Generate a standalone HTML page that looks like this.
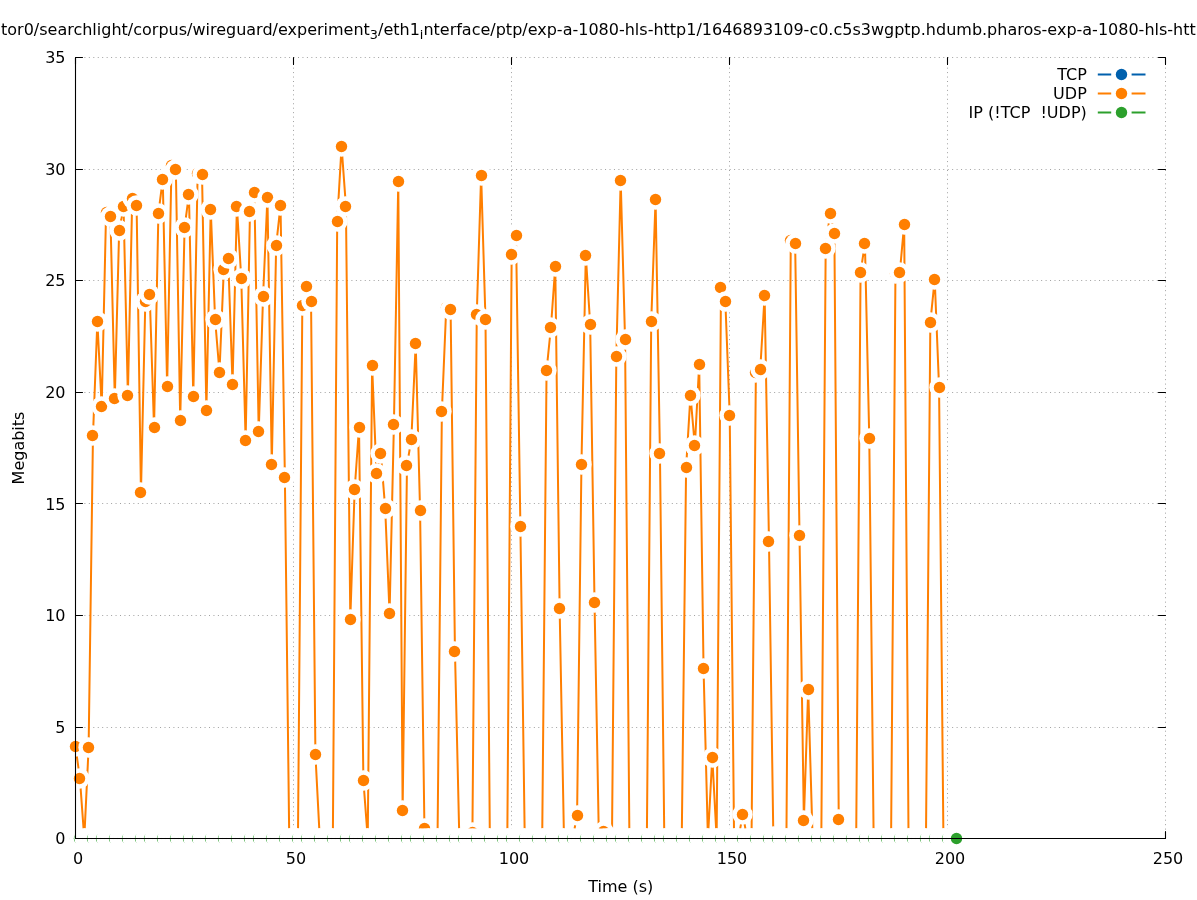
<!DOCTYPE html>
<html><head><meta charset="utf-8"><title>plot</title>
<style>html,body{margin:0;padding:0;background:#fff;overflow:hidden}svg{display:block}</style>
</head><body>
<svg width="1197" height="900" viewBox="0 0 1197 900">
<rect width="1197" height="900" fill="#fff"/>
<path d="M293.50 838.50V57.50M511.50 838.50V57.50M729.50 838.50V57.50M947.50 838.50V57.50M1165.50 838.50V57.50M75.50 727.50H1165.50M75.50 615.50H1165.50M75.50 503.50H1165.50M75.50 392.50H1165.50M75.50 280.50H1165.50M75.50 169.50H1165.50M75.50 57.50H1165.50" stroke="#a0a0a0" stroke-width="1" stroke-dasharray="1 3.45" fill="none"/>
<path d="M75.50 838.50v-7M75.50 57.50v7M293.50 838.50v-7M293.50 57.50v7M511.50 838.50v-7M511.50 57.50v7M729.50 838.50v-7M729.50 57.50v7M947.50 838.50v-7M947.50 57.50v7M1165.50 838.50v-7M1165.50 57.50v7M75.50 838.50h7M1165.50 838.50h-7M75.50 727.50h7M1165.50 727.50h-7M75.50 615.50h7M1165.50 615.50h-7M75.50 503.50h7M1165.50 503.50h-7M75.50 392.50h7M1165.50 392.50h-7M75.50 280.50h7M1165.50 280.50h-7M75.50 169.50h7M1165.50 169.50h-7M75.50 57.50h7M1165.50 57.50h-7" stroke="#000" stroke-width="1.1" stroke-linecap="round" fill="none"/>
<path d="M75.54 746.93L79.90 778.39L84.26 838.40L88.62 747.60L92.98 435.48L97.35 321.48L101.71 406.70L106.07 212.60L110.43 216.40L114.79 398.45L119.15 230.45L123.51 206.49L127.87 395.32L132.24 198.55L136.60 205.47L140.96 492.37L145.32 301.84L149.68 294.26L154.04 427.67L158.40 213.27L162.76 179.36L167.13 386.18L171.49 165.53L175.85 169.55L180.21 420.31L184.57 227.55L188.93 194.31L193.29 396.44L197.65 173.56L202.01 174.23L206.38 410.05L210.74 209.26L215.10 319.25L219.46 372.12L223.82 269.50L228.18 258.34L232.54 384.17L236.90 206.36L241.27 278.42L245.63 440.39L249.99 211.49L254.35 192.08L258.71 431.47L263.07 296.27L267.43 197.21L271.79 464.26L276.16 245.40L280.52 205.47L284.88 477.20L289.24 838.40L293.60 838.40L297.96 838.40L302.32 305.19L306.68 286.23L311.04 301.40L315.41 754.51L319.77 838.40L324.13 838.40L328.49 838.40L332.85 838.40L337.21 221.31L341.57 146.34L345.93 206.36L350.30 619.32L354.66 489.47L359.02 427.23L363.38 780.39L367.74 838.40L372.10 365.20L376.46 473.41L380.82 453.33L385.19 508.21L389.55 613.52L393.91 424.55L398.27 181.15L402.63 810.51L406.99 465.15L411.35 439.50L415.71 343.34L420.07 510.44L424.44 828.81L428.80 838.40L433.16 838.40L437.52 838.40L441.88 411.16L446.24 307.42L450.60 309.43L454.96 651.22L459.33 838.40L463.69 838.40L468.05 838.40L472.41 832.38L476.77 314.12L481.13 175.12L485.49 319.47L489.85 838.40L494.22 838.40L498.58 838.40L502.94 838.40L507.30 838.40L511.66 254.55L516.02 235.14L520.38 526.28L524.74 838.40L529.10 838.40L533.47 838.40L537.83 838.40L542.19 838.40L546.55 370.56L550.91 327.50L555.27 266.37L559.63 608.38L563.99 838.40L568.36 838.40L572.72 838.40L577.08 815.20L581.44 464.48L585.80 255.22L590.16 324.15L594.52 602.36L598.88 838.40L603.25 831.71L607.61 838.40L611.97 838.40L616.33 356.28L620.69 180.03L625.05 339.33L629.41 838.40L633.77 838.40L638.13 838.40L642.50 838.40L646.86 838.40L651.22 321.25L655.58 199.44L659.94 453.33L664.30 838.40L668.66 838.40L673.02 838.40L677.39 838.40L681.75 838.40L686.11 467.38L690.47 395.10L694.83 445.97L699.19 364.54L703.55 668.40L707.91 838.40L712.28 757.19L716.64 838.40L721.00 287.12L725.36 301.62L729.72 415.18L734.08 838.40L738.44 838.40L742.80 814.08L747.16 838.40L751.53 838.40L755.89 372.12L760.25 369.44L764.61 295.60L768.97 541.23L773.33 836.17L777.69 838.40L782.05 838.40L786.42 838.40L790.78 240.49L795.14 243.39L799.50 535.21L803.86 820.11L808.22 689.37L812.58 838.40L816.94 838.40L821.31 838.40L825.67 248.52L830.03 213.05L834.39 233.35L838.75 819.44L843.11 838.40L847.47 838.40L851.83 838.40L856.19 838.40L860.56 272.40L864.92 243.39L869.28 438.38L873.64 838.40L878.00 838.40L882.36 838.40L886.72 838.40L891.08 838.40L895.45 273.96L899.81 272.40L904.17 224.43L908.53 838.40L912.89 838.40L917.25 838.40L921.61 838.40L925.97 838.40L930.34 322.37L934.70 279.31L939.06 387.29L943.42 838.40" stroke="#ff7f00" stroke-width="2.0" fill="none" stroke-linejoin="miter"/>
<circle cx="75.5" cy="746.5" r="10.15" fill="#fff"/><circle cx="75.5" cy="746.5" r="5.7" fill="#ff7f00"/><circle cx="79.5" cy="778.5" r="10.15" fill="#fff"/><circle cx="79.5" cy="778.5" r="5.7" fill="#ff7f00"/><circle cx="84.5" cy="838.5" r="10.15" fill="#fff"/><circle cx="84.5" cy="838.5" r="5.7" fill="#ff7f00"/><circle cx="88.5" cy="747.5" r="10.15" fill="#fff"/><circle cx="88.5" cy="747.5" r="5.7" fill="#ff7f00"/><circle cx="92.5" cy="435.5" r="10.15" fill="#fff"/><circle cx="92.5" cy="435.5" r="5.7" fill="#ff7f00"/><circle cx="97.5" cy="321.5" r="10.15" fill="#fff"/><circle cx="97.5" cy="321.5" r="5.7" fill="#ff7f00"/><circle cx="101.5" cy="406.5" r="10.15" fill="#fff"/><circle cx="101.5" cy="406.5" r="5.7" fill="#ff7f00"/><circle cx="106.5" cy="212.5" r="10.15" fill="#fff"/><circle cx="106.5" cy="212.5" r="5.7" fill="#ff7f00"/><circle cx="110.5" cy="216.5" r="10.15" fill="#fff"/><circle cx="110.5" cy="216.5" r="5.7" fill="#ff7f00"/><circle cx="114.5" cy="398.5" r="10.15" fill="#fff"/><circle cx="114.5" cy="398.5" r="5.7" fill="#ff7f00"/><circle cx="119.5" cy="230.5" r="10.15" fill="#fff"/><circle cx="119.5" cy="230.5" r="5.7" fill="#ff7f00"/><circle cx="123.5" cy="206.5" r="10.15" fill="#fff"/><circle cx="123.5" cy="206.5" r="5.7" fill="#ff7f00"/><circle cx="127.5" cy="395.5" r="10.15" fill="#fff"/><circle cx="127.5" cy="395.5" r="5.7" fill="#ff7f00"/><circle cx="132.5" cy="198.5" r="10.15" fill="#fff"/><circle cx="132.5" cy="198.5" r="5.7" fill="#ff7f00"/><circle cx="136.5" cy="205.5" r="10.15" fill="#fff"/><circle cx="136.5" cy="205.5" r="5.7" fill="#ff7f00"/><circle cx="140.5" cy="492.5" r="10.15" fill="#fff"/><circle cx="140.5" cy="492.5" r="5.7" fill="#ff7f00"/><circle cx="145.5" cy="301.5" r="10.15" fill="#fff"/><circle cx="145.5" cy="301.5" r="5.7" fill="#ff7f00"/><circle cx="149.5" cy="294.5" r="10.15" fill="#fff"/><circle cx="149.5" cy="294.5" r="5.7" fill="#ff7f00"/><circle cx="154.5" cy="427.5" r="10.15" fill="#fff"/><circle cx="154.5" cy="427.5" r="5.7" fill="#ff7f00"/><circle cx="158.5" cy="213.5" r="10.15" fill="#fff"/><circle cx="158.5" cy="213.5" r="5.7" fill="#ff7f00"/><circle cx="162.5" cy="179.5" r="10.15" fill="#fff"/><circle cx="162.5" cy="179.5" r="5.7" fill="#ff7f00"/><circle cx="167.5" cy="386.5" r="10.15" fill="#fff"/><circle cx="167.5" cy="386.5" r="5.7" fill="#ff7f00"/><circle cx="171.5" cy="165.5" r="10.15" fill="#fff"/><circle cx="171.5" cy="165.5" r="5.7" fill="#ff7f00"/><circle cx="175.5" cy="169.5" r="10.15" fill="#fff"/><circle cx="175.5" cy="169.5" r="5.7" fill="#ff7f00"/><circle cx="180.5" cy="420.5" r="10.15" fill="#fff"/><circle cx="180.5" cy="420.5" r="5.7" fill="#ff7f00"/><circle cx="184.5" cy="227.5" r="10.15" fill="#fff"/><circle cx="184.5" cy="227.5" r="5.7" fill="#ff7f00"/><circle cx="188.5" cy="194.5" r="10.15" fill="#fff"/><circle cx="188.5" cy="194.5" r="5.7" fill="#ff7f00"/><circle cx="193.5" cy="396.5" r="10.15" fill="#fff"/><circle cx="193.5" cy="396.5" r="5.7" fill="#ff7f00"/><circle cx="197.5" cy="173.5" r="10.15" fill="#fff"/><circle cx="197.5" cy="173.5" r="5.7" fill="#ff7f00"/><circle cx="202.5" cy="174.5" r="10.15" fill="#fff"/><circle cx="202.5" cy="174.5" r="5.7" fill="#ff7f00"/><circle cx="206.5" cy="410.5" r="10.15" fill="#fff"/><circle cx="206.5" cy="410.5" r="5.7" fill="#ff7f00"/><circle cx="210.5" cy="209.5" r="10.15" fill="#fff"/><circle cx="210.5" cy="209.5" r="5.7" fill="#ff7f00"/><circle cx="215.5" cy="319.5" r="10.15" fill="#fff"/><circle cx="215.5" cy="319.5" r="5.7" fill="#ff7f00"/><circle cx="219.5" cy="372.5" r="10.15" fill="#fff"/><circle cx="219.5" cy="372.5" r="5.7" fill="#ff7f00"/><circle cx="223.5" cy="269.5" r="10.15" fill="#fff"/><circle cx="223.5" cy="269.5" r="5.7" fill="#ff7f00"/><circle cx="228.5" cy="258.5" r="10.15" fill="#fff"/><circle cx="228.5" cy="258.5" r="5.7" fill="#ff7f00"/><circle cx="232.5" cy="384.5" r="10.15" fill="#fff"/><circle cx="232.5" cy="384.5" r="5.7" fill="#ff7f00"/><circle cx="236.5" cy="206.5" r="10.15" fill="#fff"/><circle cx="236.5" cy="206.5" r="5.7" fill="#ff7f00"/><circle cx="241.5" cy="278.5" r="10.15" fill="#fff"/><circle cx="241.5" cy="278.5" r="5.7" fill="#ff7f00"/><circle cx="245.5" cy="440.5" r="10.15" fill="#fff"/><circle cx="245.5" cy="440.5" r="5.7" fill="#ff7f00"/><circle cx="249.5" cy="211.5" r="10.15" fill="#fff"/><circle cx="249.5" cy="211.5" r="5.7" fill="#ff7f00"/><circle cx="254.5" cy="192.5" r="10.15" fill="#fff"/><circle cx="254.5" cy="192.5" r="5.7" fill="#ff7f00"/><circle cx="258.5" cy="431.5" r="10.15" fill="#fff"/><circle cx="258.5" cy="431.5" r="5.7" fill="#ff7f00"/><circle cx="263.5" cy="296.5" r="10.15" fill="#fff"/><circle cx="263.5" cy="296.5" r="5.7" fill="#ff7f00"/><circle cx="267.5" cy="197.5" r="10.15" fill="#fff"/><circle cx="267.5" cy="197.5" r="5.7" fill="#ff7f00"/><circle cx="271.5" cy="464.5" r="10.15" fill="#fff"/><circle cx="271.5" cy="464.5" r="5.7" fill="#ff7f00"/><circle cx="276.5" cy="245.5" r="10.15" fill="#fff"/><circle cx="276.5" cy="245.5" r="5.7" fill="#ff7f00"/><circle cx="280.5" cy="205.5" r="10.15" fill="#fff"/><circle cx="280.5" cy="205.5" r="5.7" fill="#ff7f00"/><circle cx="284.5" cy="477.5" r="10.15" fill="#fff"/><circle cx="284.5" cy="477.5" r="5.7" fill="#ff7f00"/><circle cx="289.5" cy="838.5" r="10.15" fill="#fff"/><circle cx="289.5" cy="838.5" r="5.7" fill="#ff7f00"/><circle cx="293.5" cy="838.5" r="10.15" fill="#fff"/><circle cx="293.5" cy="838.5" r="5.7" fill="#ff7f00"/><circle cx="297.5" cy="838.5" r="10.15" fill="#fff"/><circle cx="297.5" cy="838.5" r="5.7" fill="#ff7f00"/><circle cx="302.5" cy="305.5" r="10.15" fill="#fff"/><circle cx="302.5" cy="305.5" r="5.7" fill="#ff7f00"/><circle cx="306.5" cy="286.5" r="10.15" fill="#fff"/><circle cx="306.5" cy="286.5" r="5.7" fill="#ff7f00"/><circle cx="311.5" cy="301.5" r="10.15" fill="#fff"/><circle cx="311.5" cy="301.5" r="5.7" fill="#ff7f00"/><circle cx="315.5" cy="754.5" r="10.15" fill="#fff"/><circle cx="315.5" cy="754.5" r="5.7" fill="#ff7f00"/><circle cx="319.5" cy="838.5" r="10.15" fill="#fff"/><circle cx="319.5" cy="838.5" r="5.7" fill="#ff7f00"/><circle cx="324.5" cy="838.5" r="10.15" fill="#fff"/><circle cx="324.5" cy="838.5" r="5.7" fill="#ff7f00"/><circle cx="328.5" cy="838.5" r="10.15" fill="#fff"/><circle cx="328.5" cy="838.5" r="5.7" fill="#ff7f00"/><circle cx="332.5" cy="838.5" r="10.15" fill="#fff"/><circle cx="332.5" cy="838.5" r="5.7" fill="#ff7f00"/><circle cx="337.5" cy="221.5" r="10.15" fill="#fff"/><circle cx="337.5" cy="221.5" r="5.7" fill="#ff7f00"/><circle cx="341.5" cy="146.5" r="10.15" fill="#fff"/><circle cx="341.5" cy="146.5" r="5.7" fill="#ff7f00"/><circle cx="345.5" cy="206.5" r="10.15" fill="#fff"/><circle cx="345.5" cy="206.5" r="5.7" fill="#ff7f00"/><circle cx="350.5" cy="619.5" r="10.15" fill="#fff"/><circle cx="350.5" cy="619.5" r="5.7" fill="#ff7f00"/><circle cx="354.5" cy="489.5" r="10.15" fill="#fff"/><circle cx="354.5" cy="489.5" r="5.7" fill="#ff7f00"/><circle cx="359.5" cy="427.5" r="10.15" fill="#fff"/><circle cx="359.5" cy="427.5" r="5.7" fill="#ff7f00"/><circle cx="363.5" cy="780.5" r="10.15" fill="#fff"/><circle cx="363.5" cy="780.5" r="5.7" fill="#ff7f00"/><circle cx="367.5" cy="838.5" r="10.15" fill="#fff"/><circle cx="367.5" cy="838.5" r="5.7" fill="#ff7f00"/><circle cx="372.5" cy="365.5" r="10.15" fill="#fff"/><circle cx="372.5" cy="365.5" r="5.7" fill="#ff7f00"/><circle cx="376.5" cy="473.5" r="10.15" fill="#fff"/><circle cx="376.5" cy="473.5" r="5.7" fill="#ff7f00"/><circle cx="380.5" cy="453.5" r="10.15" fill="#fff"/><circle cx="380.5" cy="453.5" r="5.7" fill="#ff7f00"/><circle cx="385.5" cy="508.5" r="10.15" fill="#fff"/><circle cx="385.5" cy="508.5" r="5.7" fill="#ff7f00"/><circle cx="389.5" cy="613.5" r="10.15" fill="#fff"/><circle cx="389.5" cy="613.5" r="5.7" fill="#ff7f00"/><circle cx="393.5" cy="424.5" r="10.15" fill="#fff"/><circle cx="393.5" cy="424.5" r="5.7" fill="#ff7f00"/><circle cx="398.5" cy="181.5" r="10.15" fill="#fff"/><circle cx="398.5" cy="181.5" r="5.7" fill="#ff7f00"/><circle cx="402.5" cy="810.5" r="10.15" fill="#fff"/><circle cx="402.5" cy="810.5" r="5.7" fill="#ff7f00"/><circle cx="406.5" cy="465.5" r="10.15" fill="#fff"/><circle cx="406.5" cy="465.5" r="5.7" fill="#ff7f00"/><circle cx="411.5" cy="439.5" r="10.15" fill="#fff"/><circle cx="411.5" cy="439.5" r="5.7" fill="#ff7f00"/><circle cx="415.5" cy="343.5" r="10.15" fill="#fff"/><circle cx="415.5" cy="343.5" r="5.7" fill="#ff7f00"/><circle cx="420.5" cy="510.5" r="10.15" fill="#fff"/><circle cx="420.5" cy="510.5" r="5.7" fill="#ff7f00"/><circle cx="424.5" cy="828.5" r="10.15" fill="#fff"/><circle cx="424.5" cy="828.5" r="5.7" fill="#ff7f00"/><circle cx="428.5" cy="838.5" r="10.15" fill="#fff"/><circle cx="428.5" cy="838.5" r="5.7" fill="#ff7f00"/><circle cx="433.5" cy="838.5" r="10.15" fill="#fff"/><circle cx="433.5" cy="838.5" r="5.7" fill="#ff7f00"/><circle cx="437.5" cy="838.5" r="10.15" fill="#fff"/><circle cx="437.5" cy="838.5" r="5.7" fill="#ff7f00"/><circle cx="441.5" cy="411.5" r="10.15" fill="#fff"/><circle cx="441.5" cy="411.5" r="5.7" fill="#ff7f00"/><circle cx="446.5" cy="307.5" r="10.15" fill="#fff"/><circle cx="446.5" cy="307.5" r="5.7" fill="#ff7f00"/><circle cx="450.5" cy="309.5" r="10.15" fill="#fff"/><circle cx="450.5" cy="309.5" r="5.7" fill="#ff7f00"/><circle cx="454.5" cy="651.5" r="10.15" fill="#fff"/><circle cx="454.5" cy="651.5" r="5.7" fill="#ff7f00"/><circle cx="459.5" cy="838.5" r="10.15" fill="#fff"/><circle cx="459.5" cy="838.5" r="5.7" fill="#ff7f00"/><circle cx="463.5" cy="838.5" r="10.15" fill="#fff"/><circle cx="463.5" cy="838.5" r="5.7" fill="#ff7f00"/><circle cx="468.5" cy="838.5" r="10.15" fill="#fff"/><circle cx="468.5" cy="838.5" r="5.7" fill="#ff7f00"/><circle cx="472.5" cy="832.5" r="10.15" fill="#fff"/><circle cx="472.5" cy="832.5" r="5.7" fill="#ff7f00"/><circle cx="476.5" cy="314.5" r="10.15" fill="#fff"/><circle cx="476.5" cy="314.5" r="5.7" fill="#ff7f00"/><circle cx="481.5" cy="175.5" r="10.15" fill="#fff"/><circle cx="481.5" cy="175.5" r="5.7" fill="#ff7f00"/><circle cx="485.5" cy="319.5" r="10.15" fill="#fff"/><circle cx="485.5" cy="319.5" r="5.7" fill="#ff7f00"/><circle cx="489.5" cy="838.5" r="10.15" fill="#fff"/><circle cx="489.5" cy="838.5" r="5.7" fill="#ff7f00"/><circle cx="494.5" cy="838.5" r="10.15" fill="#fff"/><circle cx="494.5" cy="838.5" r="5.7" fill="#ff7f00"/><circle cx="498.5" cy="838.5" r="10.15" fill="#fff"/><circle cx="498.5" cy="838.5" r="5.7" fill="#ff7f00"/><circle cx="502.5" cy="838.5" r="10.15" fill="#fff"/><circle cx="502.5" cy="838.5" r="5.7" fill="#ff7f00"/><circle cx="507.5" cy="838.5" r="10.15" fill="#fff"/><circle cx="507.5" cy="838.5" r="5.7" fill="#ff7f00"/><circle cx="511.5" cy="254.5" r="10.15" fill="#fff"/><circle cx="511.5" cy="254.5" r="5.7" fill="#ff7f00"/><circle cx="516.5" cy="235.5" r="10.15" fill="#fff"/><circle cx="516.5" cy="235.5" r="5.7" fill="#ff7f00"/><circle cx="520.5" cy="526.5" r="10.15" fill="#fff"/><circle cx="520.5" cy="526.5" r="5.7" fill="#ff7f00"/><circle cx="524.5" cy="838.5" r="10.15" fill="#fff"/><circle cx="524.5" cy="838.5" r="5.7" fill="#ff7f00"/><circle cx="529.5" cy="838.5" r="10.15" fill="#fff"/><circle cx="529.5" cy="838.5" r="5.7" fill="#ff7f00"/><circle cx="533.5" cy="838.5" r="10.15" fill="#fff"/><circle cx="533.5" cy="838.5" r="5.7" fill="#ff7f00"/><circle cx="537.5" cy="838.5" r="10.15" fill="#fff"/><circle cx="537.5" cy="838.5" r="5.7" fill="#ff7f00"/><circle cx="542.5" cy="838.5" r="10.15" fill="#fff"/><circle cx="542.5" cy="838.5" r="5.7" fill="#ff7f00"/><circle cx="546.5" cy="370.5" r="10.15" fill="#fff"/><circle cx="546.5" cy="370.5" r="5.7" fill="#ff7f00"/><circle cx="550.5" cy="327.5" r="10.15" fill="#fff"/><circle cx="550.5" cy="327.5" r="5.7" fill="#ff7f00"/><circle cx="555.5" cy="266.5" r="10.15" fill="#fff"/><circle cx="555.5" cy="266.5" r="5.7" fill="#ff7f00"/><circle cx="559.5" cy="608.5" r="10.15" fill="#fff"/><circle cx="559.5" cy="608.5" r="5.7" fill="#ff7f00"/><circle cx="563.5" cy="838.5" r="10.15" fill="#fff"/><circle cx="563.5" cy="838.5" r="5.7" fill="#ff7f00"/><circle cx="568.5" cy="838.5" r="10.15" fill="#fff"/><circle cx="568.5" cy="838.5" r="5.7" fill="#ff7f00"/><circle cx="572.5" cy="838.5" r="10.15" fill="#fff"/><circle cx="572.5" cy="838.5" r="5.7" fill="#ff7f00"/><circle cx="577.5" cy="815.5" r="10.15" fill="#fff"/><circle cx="577.5" cy="815.5" r="5.7" fill="#ff7f00"/><circle cx="581.5" cy="464.5" r="10.15" fill="#fff"/><circle cx="581.5" cy="464.5" r="5.7" fill="#ff7f00"/><circle cx="585.5" cy="255.5" r="10.15" fill="#fff"/><circle cx="585.5" cy="255.5" r="5.7" fill="#ff7f00"/><circle cx="590.5" cy="324.5" r="10.15" fill="#fff"/><circle cx="590.5" cy="324.5" r="5.7" fill="#ff7f00"/><circle cx="594.5" cy="602.5" r="10.15" fill="#fff"/><circle cx="594.5" cy="602.5" r="5.7" fill="#ff7f00"/><circle cx="598.5" cy="838.5" r="10.15" fill="#fff"/><circle cx="598.5" cy="838.5" r="5.7" fill="#ff7f00"/><circle cx="603.5" cy="831.5" r="10.15" fill="#fff"/><circle cx="603.5" cy="831.5" r="5.7" fill="#ff7f00"/><circle cx="607.5" cy="838.5" r="10.15" fill="#fff"/><circle cx="607.5" cy="838.5" r="5.7" fill="#ff7f00"/><circle cx="611.5" cy="838.5" r="10.15" fill="#fff"/><circle cx="611.5" cy="838.5" r="5.7" fill="#ff7f00"/><circle cx="616.5" cy="356.5" r="10.15" fill="#fff"/><circle cx="616.5" cy="356.5" r="5.7" fill="#ff7f00"/><circle cx="620.5" cy="180.5" r="10.15" fill="#fff"/><circle cx="620.5" cy="180.5" r="5.7" fill="#ff7f00"/><circle cx="625.5" cy="339.5" r="10.15" fill="#fff"/><circle cx="625.5" cy="339.5" r="5.7" fill="#ff7f00"/><circle cx="629.5" cy="838.5" r="10.15" fill="#fff"/><circle cx="629.5" cy="838.5" r="5.7" fill="#ff7f00"/><circle cx="633.5" cy="838.5" r="10.15" fill="#fff"/><circle cx="633.5" cy="838.5" r="5.7" fill="#ff7f00"/><circle cx="638.5" cy="838.5" r="10.15" fill="#fff"/><circle cx="638.5" cy="838.5" r="5.7" fill="#ff7f00"/><circle cx="642.5" cy="838.5" r="10.15" fill="#fff"/><circle cx="642.5" cy="838.5" r="5.7" fill="#ff7f00"/><circle cx="646.5" cy="838.5" r="10.15" fill="#fff"/><circle cx="646.5" cy="838.5" r="5.7" fill="#ff7f00"/><circle cx="651.5" cy="321.5" r="10.15" fill="#fff"/><circle cx="651.5" cy="321.5" r="5.7" fill="#ff7f00"/><circle cx="655.5" cy="199.5" r="10.15" fill="#fff"/><circle cx="655.5" cy="199.5" r="5.7" fill="#ff7f00"/><circle cx="659.5" cy="453.5" r="10.15" fill="#fff"/><circle cx="659.5" cy="453.5" r="5.7" fill="#ff7f00"/><circle cx="664.5" cy="838.5" r="10.15" fill="#fff"/><circle cx="664.5" cy="838.5" r="5.7" fill="#ff7f00"/><circle cx="668.5" cy="838.5" r="10.15" fill="#fff"/><circle cx="668.5" cy="838.5" r="5.7" fill="#ff7f00"/><circle cx="673.5" cy="838.5" r="10.15" fill="#fff"/><circle cx="673.5" cy="838.5" r="5.7" fill="#ff7f00"/><circle cx="677.5" cy="838.5" r="10.15" fill="#fff"/><circle cx="677.5" cy="838.5" r="5.7" fill="#ff7f00"/><circle cx="681.5" cy="838.5" r="10.15" fill="#fff"/><circle cx="681.5" cy="838.5" r="5.7" fill="#ff7f00"/><circle cx="686.5" cy="467.5" r="10.15" fill="#fff"/><circle cx="686.5" cy="467.5" r="5.7" fill="#ff7f00"/><circle cx="690.5" cy="395.5" r="10.15" fill="#fff"/><circle cx="690.5" cy="395.5" r="5.7" fill="#ff7f00"/><circle cx="694.5" cy="445.5" r="10.15" fill="#fff"/><circle cx="694.5" cy="445.5" r="5.7" fill="#ff7f00"/><circle cx="699.5" cy="364.5" r="10.15" fill="#fff"/><circle cx="699.5" cy="364.5" r="5.7" fill="#ff7f00"/><circle cx="703.5" cy="668.5" r="10.15" fill="#fff"/><circle cx="703.5" cy="668.5" r="5.7" fill="#ff7f00"/><circle cx="707.5" cy="838.5" r="10.15" fill="#fff"/><circle cx="707.5" cy="838.5" r="5.7" fill="#ff7f00"/><circle cx="712.5" cy="757.5" r="10.15" fill="#fff"/><circle cx="712.5" cy="757.5" r="5.7" fill="#ff7f00"/><circle cx="716.5" cy="838.5" r="10.15" fill="#fff"/><circle cx="716.5" cy="838.5" r="5.7" fill="#ff7f00"/><circle cx="720.5" cy="287.5" r="10.15" fill="#fff"/><circle cx="720.5" cy="287.5" r="5.7" fill="#ff7f00"/><circle cx="725.5" cy="301.5" r="10.15" fill="#fff"/><circle cx="725.5" cy="301.5" r="5.7" fill="#ff7f00"/><circle cx="729.5" cy="415.5" r="10.15" fill="#fff"/><circle cx="729.5" cy="415.5" r="5.7" fill="#ff7f00"/><circle cx="734.5" cy="838.5" r="10.15" fill="#fff"/><circle cx="734.5" cy="838.5" r="5.7" fill="#ff7f00"/><circle cx="738.5" cy="838.5" r="10.15" fill="#fff"/><circle cx="738.5" cy="838.5" r="5.7" fill="#ff7f00"/><circle cx="742.5" cy="814.5" r="10.15" fill="#fff"/><circle cx="742.5" cy="814.5" r="5.7" fill="#ff7f00"/><circle cx="747.5" cy="838.5" r="10.15" fill="#fff"/><circle cx="747.5" cy="838.5" r="5.7" fill="#ff7f00"/><circle cx="751.5" cy="838.5" r="10.15" fill="#fff"/><circle cx="751.5" cy="838.5" r="5.7" fill="#ff7f00"/><circle cx="755.5" cy="372.5" r="10.15" fill="#fff"/><circle cx="755.5" cy="372.5" r="5.7" fill="#ff7f00"/><circle cx="760.5" cy="369.5" r="10.15" fill="#fff"/><circle cx="760.5" cy="369.5" r="5.7" fill="#ff7f00"/><circle cx="764.5" cy="295.5" r="10.15" fill="#fff"/><circle cx="764.5" cy="295.5" r="5.7" fill="#ff7f00"/><circle cx="768.5" cy="541.5" r="10.15" fill="#fff"/><circle cx="768.5" cy="541.5" r="5.7" fill="#ff7f00"/><circle cx="773.5" cy="836.5" r="10.15" fill="#fff"/><circle cx="773.5" cy="836.5" r="5.7" fill="#ff7f00"/><circle cx="777.5" cy="838.5" r="10.15" fill="#fff"/><circle cx="777.5" cy="838.5" r="5.7" fill="#ff7f00"/><circle cx="782.5" cy="838.5" r="10.15" fill="#fff"/><circle cx="782.5" cy="838.5" r="5.7" fill="#ff7f00"/><circle cx="786.5" cy="838.5" r="10.15" fill="#fff"/><circle cx="786.5" cy="838.5" r="5.7" fill="#ff7f00"/><circle cx="790.5" cy="240.5" r="10.15" fill="#fff"/><circle cx="790.5" cy="240.5" r="5.7" fill="#ff7f00"/><circle cx="795.5" cy="243.5" r="10.15" fill="#fff"/><circle cx="795.5" cy="243.5" r="5.7" fill="#ff7f00"/><circle cx="799.5" cy="535.5" r="10.15" fill="#fff"/><circle cx="799.5" cy="535.5" r="5.7" fill="#ff7f00"/><circle cx="803.5" cy="820.5" r="10.15" fill="#fff"/><circle cx="803.5" cy="820.5" r="5.7" fill="#ff7f00"/><circle cx="808.5" cy="689.5" r="10.15" fill="#fff"/><circle cx="808.5" cy="689.5" r="5.7" fill="#ff7f00"/><circle cx="812.5" cy="838.5" r="10.15" fill="#fff"/><circle cx="812.5" cy="838.5" r="5.7" fill="#ff7f00"/><circle cx="816.5" cy="838.5" r="10.15" fill="#fff"/><circle cx="816.5" cy="838.5" r="5.7" fill="#ff7f00"/><circle cx="821.5" cy="838.5" r="10.15" fill="#fff"/><circle cx="821.5" cy="838.5" r="5.7" fill="#ff7f00"/><circle cx="825.5" cy="248.5" r="10.15" fill="#fff"/><circle cx="825.5" cy="248.5" r="5.7" fill="#ff7f00"/><circle cx="830.5" cy="213.5" r="10.15" fill="#fff"/><circle cx="830.5" cy="213.5" r="5.7" fill="#ff7f00"/><circle cx="834.5" cy="233.5" r="10.15" fill="#fff"/><circle cx="834.5" cy="233.5" r="5.7" fill="#ff7f00"/><circle cx="838.5" cy="819.5" r="10.15" fill="#fff"/><circle cx="838.5" cy="819.5" r="5.7" fill="#ff7f00"/><circle cx="843.5" cy="838.5" r="10.15" fill="#fff"/><circle cx="843.5" cy="838.5" r="5.7" fill="#ff7f00"/><circle cx="847.5" cy="838.5" r="10.15" fill="#fff"/><circle cx="847.5" cy="838.5" r="5.7" fill="#ff7f00"/><circle cx="851.5" cy="838.5" r="10.15" fill="#fff"/><circle cx="851.5" cy="838.5" r="5.7" fill="#ff7f00"/><circle cx="856.5" cy="838.5" r="10.15" fill="#fff"/><circle cx="856.5" cy="838.5" r="5.7" fill="#ff7f00"/><circle cx="860.5" cy="272.5" r="10.15" fill="#fff"/><circle cx="860.5" cy="272.5" r="5.7" fill="#ff7f00"/><circle cx="864.5" cy="243.5" r="10.15" fill="#fff"/><circle cx="864.5" cy="243.5" r="5.7" fill="#ff7f00"/><circle cx="869.5" cy="438.5" r="10.15" fill="#fff"/><circle cx="869.5" cy="438.5" r="5.7" fill="#ff7f00"/><circle cx="873.5" cy="838.5" r="10.15" fill="#fff"/><circle cx="873.5" cy="838.5" r="5.7" fill="#ff7f00"/><circle cx="878.5" cy="838.5" r="10.15" fill="#fff"/><circle cx="878.5" cy="838.5" r="5.7" fill="#ff7f00"/><circle cx="882.5" cy="838.5" r="10.15" fill="#fff"/><circle cx="882.5" cy="838.5" r="5.7" fill="#ff7f00"/><circle cx="886.5" cy="838.5" r="10.15" fill="#fff"/><circle cx="886.5" cy="838.5" r="5.7" fill="#ff7f00"/><circle cx="891.5" cy="838.5" r="10.15" fill="#fff"/><circle cx="891.5" cy="838.5" r="5.7" fill="#ff7f00"/><circle cx="895.5" cy="273.5" r="10.15" fill="#fff"/><circle cx="895.5" cy="273.5" r="5.7" fill="#ff7f00"/><circle cx="899.5" cy="272.5" r="10.15" fill="#fff"/><circle cx="899.5" cy="272.5" r="5.7" fill="#ff7f00"/><circle cx="904.5" cy="224.5" r="10.15" fill="#fff"/><circle cx="904.5" cy="224.5" r="5.7" fill="#ff7f00"/><circle cx="908.5" cy="838.5" r="10.15" fill="#fff"/><circle cx="908.5" cy="838.5" r="5.7" fill="#ff7f00"/><circle cx="912.5" cy="838.5" r="10.15" fill="#fff"/><circle cx="912.5" cy="838.5" r="5.7" fill="#ff7f00"/><circle cx="917.5" cy="838.5" r="10.15" fill="#fff"/><circle cx="917.5" cy="838.5" r="5.7" fill="#ff7f00"/><circle cx="921.5" cy="838.5" r="10.15" fill="#fff"/><circle cx="921.5" cy="838.5" r="5.7" fill="#ff7f00"/><circle cx="925.5" cy="838.5" r="10.15" fill="#fff"/><circle cx="925.5" cy="838.5" r="5.7" fill="#ff7f00"/><circle cx="930.5" cy="322.5" r="10.15" fill="#fff"/><circle cx="930.5" cy="322.5" r="5.7" fill="#ff7f00"/><circle cx="934.5" cy="279.5" r="10.15" fill="#fff"/><circle cx="934.5" cy="279.5" r="5.7" fill="#ff7f00"/><circle cx="939.5" cy="387.5" r="10.15" fill="#fff"/><circle cx="939.5" cy="387.5" r="5.7" fill="#ff7f00"/><circle cx="943.5" cy="838.5" r="10.15" fill="#fff"/><circle cx="943.5" cy="838.5" r="5.7" fill="#ff7f00"/>
<circle cx="75.5" cy="838.5" r="10.15" fill="#fff"/><circle cx="75.5" cy="838.5" r="5.7" fill="#2ca02c"/><circle cx="79.5" cy="838.5" r="10.15" fill="#fff"/><circle cx="79.5" cy="838.5" r="5.7" fill="#2ca02c"/><circle cx="84.5" cy="838.5" r="10.15" fill="#fff"/><circle cx="84.5" cy="838.5" r="5.7" fill="#2ca02c"/><circle cx="88.5" cy="838.5" r="10.15" fill="#fff"/><circle cx="88.5" cy="838.5" r="5.7" fill="#2ca02c"/><circle cx="92.5" cy="838.5" r="10.15" fill="#fff"/><circle cx="92.5" cy="838.5" r="5.7" fill="#2ca02c"/><circle cx="97.5" cy="838.5" r="10.15" fill="#fff"/><circle cx="97.5" cy="838.5" r="5.7" fill="#2ca02c"/><circle cx="101.5" cy="838.5" r="10.15" fill="#fff"/><circle cx="101.5" cy="838.5" r="5.7" fill="#2ca02c"/><circle cx="106.5" cy="838.5" r="10.15" fill="#fff"/><circle cx="106.5" cy="838.5" r="5.7" fill="#2ca02c"/><circle cx="110.5" cy="838.5" r="10.15" fill="#fff"/><circle cx="110.5" cy="838.5" r="5.7" fill="#2ca02c"/><circle cx="114.5" cy="838.5" r="10.15" fill="#fff"/><circle cx="114.5" cy="838.5" r="5.7" fill="#2ca02c"/><circle cx="119.5" cy="838.5" r="10.15" fill="#fff"/><circle cx="119.5" cy="838.5" r="5.7" fill="#2ca02c"/><circle cx="123.5" cy="838.5" r="10.15" fill="#fff"/><circle cx="123.5" cy="838.5" r="5.7" fill="#2ca02c"/><circle cx="127.5" cy="838.5" r="10.15" fill="#fff"/><circle cx="127.5" cy="838.5" r="5.7" fill="#2ca02c"/><circle cx="132.5" cy="838.5" r="10.15" fill="#fff"/><circle cx="132.5" cy="838.5" r="5.7" fill="#2ca02c"/><circle cx="136.5" cy="838.5" r="10.15" fill="#fff"/><circle cx="136.5" cy="838.5" r="5.7" fill="#2ca02c"/><circle cx="140.5" cy="838.5" r="10.15" fill="#fff"/><circle cx="140.5" cy="838.5" r="5.7" fill="#2ca02c"/><circle cx="145.5" cy="838.5" r="10.15" fill="#fff"/><circle cx="145.5" cy="838.5" r="5.7" fill="#2ca02c"/><circle cx="149.5" cy="838.5" r="10.15" fill="#fff"/><circle cx="149.5" cy="838.5" r="5.7" fill="#2ca02c"/><circle cx="154.5" cy="838.5" r="10.15" fill="#fff"/><circle cx="154.5" cy="838.5" r="5.7" fill="#2ca02c"/><circle cx="158.5" cy="838.5" r="10.15" fill="#fff"/><circle cx="158.5" cy="838.5" r="5.7" fill="#2ca02c"/><circle cx="162.5" cy="838.5" r="10.15" fill="#fff"/><circle cx="162.5" cy="838.5" r="5.7" fill="#2ca02c"/><circle cx="167.5" cy="838.5" r="10.15" fill="#fff"/><circle cx="167.5" cy="838.5" r="5.7" fill="#2ca02c"/><circle cx="171.5" cy="838.5" r="10.15" fill="#fff"/><circle cx="171.5" cy="838.5" r="5.7" fill="#2ca02c"/><circle cx="175.5" cy="838.5" r="10.15" fill="#fff"/><circle cx="175.5" cy="838.5" r="5.7" fill="#2ca02c"/><circle cx="180.5" cy="838.5" r="10.15" fill="#fff"/><circle cx="180.5" cy="838.5" r="5.7" fill="#2ca02c"/><circle cx="184.5" cy="838.5" r="10.15" fill="#fff"/><circle cx="184.5" cy="838.5" r="5.7" fill="#2ca02c"/><circle cx="188.5" cy="838.5" r="10.15" fill="#fff"/><circle cx="188.5" cy="838.5" r="5.7" fill="#2ca02c"/><circle cx="193.5" cy="838.5" r="10.15" fill="#fff"/><circle cx="193.5" cy="838.5" r="5.7" fill="#2ca02c"/><circle cx="197.5" cy="838.5" r="10.15" fill="#fff"/><circle cx="197.5" cy="838.5" r="5.7" fill="#2ca02c"/><circle cx="202.5" cy="838.5" r="10.15" fill="#fff"/><circle cx="202.5" cy="838.5" r="5.7" fill="#2ca02c"/><circle cx="206.5" cy="838.5" r="10.15" fill="#fff"/><circle cx="206.5" cy="838.5" r="5.7" fill="#2ca02c"/><circle cx="210.5" cy="838.5" r="10.15" fill="#fff"/><circle cx="210.5" cy="838.5" r="5.7" fill="#2ca02c"/><circle cx="215.5" cy="838.5" r="10.15" fill="#fff"/><circle cx="215.5" cy="838.5" r="5.7" fill="#2ca02c"/><circle cx="219.5" cy="838.5" r="10.15" fill="#fff"/><circle cx="219.5" cy="838.5" r="5.7" fill="#2ca02c"/><circle cx="223.5" cy="838.5" r="10.15" fill="#fff"/><circle cx="223.5" cy="838.5" r="5.7" fill="#2ca02c"/><circle cx="228.5" cy="838.5" r="10.15" fill="#fff"/><circle cx="228.5" cy="838.5" r="5.7" fill="#2ca02c"/><circle cx="232.5" cy="838.5" r="10.15" fill="#fff"/><circle cx="232.5" cy="838.5" r="5.7" fill="#2ca02c"/><circle cx="236.5" cy="838.5" r="10.15" fill="#fff"/><circle cx="236.5" cy="838.5" r="5.7" fill="#2ca02c"/><circle cx="241.5" cy="838.5" r="10.15" fill="#fff"/><circle cx="241.5" cy="838.5" r="5.7" fill="#2ca02c"/><circle cx="245.5" cy="838.5" r="10.15" fill="#fff"/><circle cx="245.5" cy="838.5" r="5.7" fill="#2ca02c"/><circle cx="249.5" cy="838.5" r="10.15" fill="#fff"/><circle cx="249.5" cy="838.5" r="5.7" fill="#2ca02c"/><circle cx="254.5" cy="838.5" r="10.15" fill="#fff"/><circle cx="254.5" cy="838.5" r="5.7" fill="#2ca02c"/><circle cx="258.5" cy="838.5" r="10.15" fill="#fff"/><circle cx="258.5" cy="838.5" r="5.7" fill="#2ca02c"/><circle cx="263.5" cy="838.5" r="10.15" fill="#fff"/><circle cx="263.5" cy="838.5" r="5.7" fill="#2ca02c"/><circle cx="267.5" cy="838.5" r="10.15" fill="#fff"/><circle cx="267.5" cy="838.5" r="5.7" fill="#2ca02c"/><circle cx="271.5" cy="838.5" r="10.15" fill="#fff"/><circle cx="271.5" cy="838.5" r="5.7" fill="#2ca02c"/><circle cx="276.5" cy="838.5" r="10.15" fill="#fff"/><circle cx="276.5" cy="838.5" r="5.7" fill="#2ca02c"/><circle cx="280.5" cy="838.5" r="10.15" fill="#fff"/><circle cx="280.5" cy="838.5" r="5.7" fill="#2ca02c"/><circle cx="284.5" cy="838.5" r="10.15" fill="#fff"/><circle cx="284.5" cy="838.5" r="5.7" fill="#2ca02c"/><circle cx="289.5" cy="838.5" r="10.15" fill="#fff"/><circle cx="289.5" cy="838.5" r="5.7" fill="#2ca02c"/><circle cx="293.5" cy="838.5" r="10.15" fill="#fff"/><circle cx="293.5" cy="838.5" r="5.7" fill="#2ca02c"/><circle cx="297.5" cy="838.5" r="10.15" fill="#fff"/><circle cx="297.5" cy="838.5" r="5.7" fill="#2ca02c"/><circle cx="302.5" cy="838.5" r="10.15" fill="#fff"/><circle cx="302.5" cy="838.5" r="5.7" fill="#2ca02c"/><circle cx="306.5" cy="838.5" r="10.15" fill="#fff"/><circle cx="306.5" cy="838.5" r="5.7" fill="#2ca02c"/><circle cx="311.5" cy="838.5" r="10.15" fill="#fff"/><circle cx="311.5" cy="838.5" r="5.7" fill="#2ca02c"/><circle cx="315.5" cy="838.5" r="10.15" fill="#fff"/><circle cx="315.5" cy="838.5" r="5.7" fill="#2ca02c"/><circle cx="319.5" cy="838.5" r="10.15" fill="#fff"/><circle cx="319.5" cy="838.5" r="5.7" fill="#2ca02c"/><circle cx="324.5" cy="838.5" r="10.15" fill="#fff"/><circle cx="324.5" cy="838.5" r="5.7" fill="#2ca02c"/><circle cx="328.5" cy="838.5" r="10.15" fill="#fff"/><circle cx="328.5" cy="838.5" r="5.7" fill="#2ca02c"/><circle cx="332.5" cy="838.5" r="10.15" fill="#fff"/><circle cx="332.5" cy="838.5" r="5.7" fill="#2ca02c"/><circle cx="337.5" cy="838.5" r="10.15" fill="#fff"/><circle cx="337.5" cy="838.5" r="5.7" fill="#2ca02c"/><circle cx="341.5" cy="838.5" r="10.15" fill="#fff"/><circle cx="341.5" cy="838.5" r="5.7" fill="#2ca02c"/><circle cx="345.5" cy="838.5" r="10.15" fill="#fff"/><circle cx="345.5" cy="838.5" r="5.7" fill="#2ca02c"/><circle cx="350.5" cy="838.5" r="10.15" fill="#fff"/><circle cx="350.5" cy="838.5" r="5.7" fill="#2ca02c"/><circle cx="354.5" cy="838.5" r="10.15" fill="#fff"/><circle cx="354.5" cy="838.5" r="5.7" fill="#2ca02c"/><circle cx="359.5" cy="838.5" r="10.15" fill="#fff"/><circle cx="359.5" cy="838.5" r="5.7" fill="#2ca02c"/><circle cx="363.5" cy="838.5" r="10.15" fill="#fff"/><circle cx="363.5" cy="838.5" r="5.7" fill="#2ca02c"/><circle cx="367.5" cy="838.5" r="10.15" fill="#fff"/><circle cx="367.5" cy="838.5" r="5.7" fill="#2ca02c"/><circle cx="372.5" cy="838.5" r="10.15" fill="#fff"/><circle cx="372.5" cy="838.5" r="5.7" fill="#2ca02c"/><circle cx="376.5" cy="838.5" r="10.15" fill="#fff"/><circle cx="376.5" cy="838.5" r="5.7" fill="#2ca02c"/><circle cx="380.5" cy="838.5" r="10.15" fill="#fff"/><circle cx="380.5" cy="838.5" r="5.7" fill="#2ca02c"/><circle cx="385.5" cy="838.5" r="10.15" fill="#fff"/><circle cx="385.5" cy="838.5" r="5.7" fill="#2ca02c"/><circle cx="389.5" cy="838.5" r="10.15" fill="#fff"/><circle cx="389.5" cy="838.5" r="5.7" fill="#2ca02c"/><circle cx="393.5" cy="838.5" r="10.15" fill="#fff"/><circle cx="393.5" cy="838.5" r="5.7" fill="#2ca02c"/><circle cx="398.5" cy="838.5" r="10.15" fill="#fff"/><circle cx="398.5" cy="838.5" r="5.7" fill="#2ca02c"/><circle cx="402.5" cy="838.5" r="10.15" fill="#fff"/><circle cx="402.5" cy="838.5" r="5.7" fill="#2ca02c"/><circle cx="406.5" cy="838.5" r="10.15" fill="#fff"/><circle cx="406.5" cy="838.5" r="5.7" fill="#2ca02c"/><circle cx="411.5" cy="838.5" r="10.15" fill="#fff"/><circle cx="411.5" cy="838.5" r="5.7" fill="#2ca02c"/><circle cx="415.5" cy="838.5" r="10.15" fill="#fff"/><circle cx="415.5" cy="838.5" r="5.7" fill="#2ca02c"/><circle cx="420.5" cy="838.5" r="10.15" fill="#fff"/><circle cx="420.5" cy="838.5" r="5.7" fill="#2ca02c"/><circle cx="424.5" cy="838.5" r="10.15" fill="#fff"/><circle cx="424.5" cy="838.5" r="5.7" fill="#2ca02c"/><circle cx="428.5" cy="838.5" r="10.15" fill="#fff"/><circle cx="428.5" cy="838.5" r="5.7" fill="#2ca02c"/><circle cx="433.5" cy="838.5" r="10.15" fill="#fff"/><circle cx="433.5" cy="838.5" r="5.7" fill="#2ca02c"/><circle cx="437.5" cy="838.5" r="10.15" fill="#fff"/><circle cx="437.5" cy="838.5" r="5.7" fill="#2ca02c"/><circle cx="441.5" cy="838.5" r="10.15" fill="#fff"/><circle cx="441.5" cy="838.5" r="5.7" fill="#2ca02c"/><circle cx="446.5" cy="838.5" r="10.15" fill="#fff"/><circle cx="446.5" cy="838.5" r="5.7" fill="#2ca02c"/><circle cx="450.5" cy="838.5" r="10.15" fill="#fff"/><circle cx="450.5" cy="838.5" r="5.7" fill="#2ca02c"/><circle cx="454.5" cy="838.5" r="10.15" fill="#fff"/><circle cx="454.5" cy="838.5" r="5.7" fill="#2ca02c"/><circle cx="459.5" cy="838.5" r="10.15" fill="#fff"/><circle cx="459.5" cy="838.5" r="5.7" fill="#2ca02c"/><circle cx="463.5" cy="838.5" r="10.15" fill="#fff"/><circle cx="463.5" cy="838.5" r="5.7" fill="#2ca02c"/><circle cx="468.5" cy="838.5" r="10.15" fill="#fff"/><circle cx="468.5" cy="838.5" r="5.7" fill="#2ca02c"/><circle cx="472.5" cy="838.5" r="10.15" fill="#fff"/><circle cx="472.5" cy="838.5" r="5.7" fill="#2ca02c"/><circle cx="476.5" cy="838.5" r="10.15" fill="#fff"/><circle cx="476.5" cy="838.5" r="5.7" fill="#2ca02c"/><circle cx="481.5" cy="838.5" r="10.15" fill="#fff"/><circle cx="481.5" cy="838.5" r="5.7" fill="#2ca02c"/><circle cx="485.5" cy="838.5" r="10.15" fill="#fff"/><circle cx="485.5" cy="838.5" r="5.7" fill="#2ca02c"/><circle cx="489.5" cy="838.5" r="10.15" fill="#fff"/><circle cx="489.5" cy="838.5" r="5.7" fill="#2ca02c"/><circle cx="494.5" cy="838.5" r="10.15" fill="#fff"/><circle cx="494.5" cy="838.5" r="5.7" fill="#2ca02c"/><circle cx="498.5" cy="838.5" r="10.15" fill="#fff"/><circle cx="498.5" cy="838.5" r="5.7" fill="#2ca02c"/><circle cx="502.5" cy="838.5" r="10.15" fill="#fff"/><circle cx="502.5" cy="838.5" r="5.7" fill="#2ca02c"/><circle cx="507.5" cy="838.5" r="10.15" fill="#fff"/><circle cx="507.5" cy="838.5" r="5.7" fill="#2ca02c"/><circle cx="511.5" cy="838.5" r="10.15" fill="#fff"/><circle cx="511.5" cy="838.5" r="5.7" fill="#2ca02c"/><circle cx="516.5" cy="838.5" r="10.15" fill="#fff"/><circle cx="516.5" cy="838.5" r="5.7" fill="#2ca02c"/><circle cx="520.5" cy="838.5" r="10.15" fill="#fff"/><circle cx="520.5" cy="838.5" r="5.7" fill="#2ca02c"/><circle cx="524.5" cy="838.5" r="10.15" fill="#fff"/><circle cx="524.5" cy="838.5" r="5.7" fill="#2ca02c"/><circle cx="529.5" cy="838.5" r="10.15" fill="#fff"/><circle cx="529.5" cy="838.5" r="5.7" fill="#2ca02c"/><circle cx="533.5" cy="838.5" r="10.15" fill="#fff"/><circle cx="533.5" cy="838.5" r="5.7" fill="#2ca02c"/><circle cx="537.5" cy="838.5" r="10.15" fill="#fff"/><circle cx="537.5" cy="838.5" r="5.7" fill="#2ca02c"/><circle cx="542.5" cy="838.5" r="10.15" fill="#fff"/><circle cx="542.5" cy="838.5" r="5.7" fill="#2ca02c"/><circle cx="546.5" cy="838.5" r="10.15" fill="#fff"/><circle cx="546.5" cy="838.5" r="5.7" fill="#2ca02c"/><circle cx="550.5" cy="838.5" r="10.15" fill="#fff"/><circle cx="550.5" cy="838.5" r="5.7" fill="#2ca02c"/><circle cx="555.5" cy="838.5" r="10.15" fill="#fff"/><circle cx="555.5" cy="838.5" r="5.7" fill="#2ca02c"/><circle cx="559.5" cy="838.5" r="10.15" fill="#fff"/><circle cx="559.5" cy="838.5" r="5.7" fill="#2ca02c"/><circle cx="563.5" cy="838.5" r="10.15" fill="#fff"/><circle cx="563.5" cy="838.5" r="5.7" fill="#2ca02c"/><circle cx="568.5" cy="838.5" r="10.15" fill="#fff"/><circle cx="568.5" cy="838.5" r="5.7" fill="#2ca02c"/><circle cx="572.5" cy="838.5" r="10.15" fill="#fff"/><circle cx="572.5" cy="838.5" r="5.7" fill="#2ca02c"/><circle cx="577.5" cy="838.5" r="10.15" fill="#fff"/><circle cx="577.5" cy="838.5" r="5.7" fill="#2ca02c"/><circle cx="581.5" cy="838.5" r="10.15" fill="#fff"/><circle cx="581.5" cy="838.5" r="5.7" fill="#2ca02c"/><circle cx="585.5" cy="838.5" r="10.15" fill="#fff"/><circle cx="585.5" cy="838.5" r="5.7" fill="#2ca02c"/><circle cx="590.5" cy="838.5" r="10.15" fill="#fff"/><circle cx="590.5" cy="838.5" r="5.7" fill="#2ca02c"/><circle cx="594.5" cy="838.5" r="10.15" fill="#fff"/><circle cx="594.5" cy="838.5" r="5.7" fill="#2ca02c"/><circle cx="598.5" cy="838.5" r="10.15" fill="#fff"/><circle cx="598.5" cy="838.5" r="5.7" fill="#2ca02c"/><circle cx="603.5" cy="838.5" r="10.15" fill="#fff"/><circle cx="603.5" cy="838.5" r="5.7" fill="#2ca02c"/><circle cx="607.5" cy="838.5" r="10.15" fill="#fff"/><circle cx="607.5" cy="838.5" r="5.7" fill="#2ca02c"/><circle cx="611.5" cy="838.5" r="10.15" fill="#fff"/><circle cx="611.5" cy="838.5" r="5.7" fill="#2ca02c"/><circle cx="616.5" cy="838.5" r="10.15" fill="#fff"/><circle cx="616.5" cy="838.5" r="5.7" fill="#2ca02c"/><circle cx="620.5" cy="838.5" r="10.15" fill="#fff"/><circle cx="620.5" cy="838.5" r="5.7" fill="#2ca02c"/><circle cx="625.5" cy="838.5" r="10.15" fill="#fff"/><circle cx="625.5" cy="838.5" r="5.7" fill="#2ca02c"/><circle cx="629.5" cy="838.5" r="10.15" fill="#fff"/><circle cx="629.5" cy="838.5" r="5.7" fill="#2ca02c"/><circle cx="633.5" cy="838.5" r="10.15" fill="#fff"/><circle cx="633.5" cy="838.5" r="5.7" fill="#2ca02c"/><circle cx="638.5" cy="838.5" r="10.15" fill="#fff"/><circle cx="638.5" cy="838.5" r="5.7" fill="#2ca02c"/><circle cx="642.5" cy="838.5" r="10.15" fill="#fff"/><circle cx="642.5" cy="838.5" r="5.7" fill="#2ca02c"/><circle cx="646.5" cy="838.5" r="10.15" fill="#fff"/><circle cx="646.5" cy="838.5" r="5.7" fill="#2ca02c"/><circle cx="651.5" cy="838.5" r="10.15" fill="#fff"/><circle cx="651.5" cy="838.5" r="5.7" fill="#2ca02c"/><circle cx="655.5" cy="838.5" r="10.15" fill="#fff"/><circle cx="655.5" cy="838.5" r="5.7" fill="#2ca02c"/><circle cx="659.5" cy="838.5" r="10.15" fill="#fff"/><circle cx="659.5" cy="838.5" r="5.7" fill="#2ca02c"/><circle cx="664.5" cy="838.5" r="10.15" fill="#fff"/><circle cx="664.5" cy="838.5" r="5.7" fill="#2ca02c"/><circle cx="668.5" cy="838.5" r="10.15" fill="#fff"/><circle cx="668.5" cy="838.5" r="5.7" fill="#2ca02c"/><circle cx="673.5" cy="838.5" r="10.15" fill="#fff"/><circle cx="673.5" cy="838.5" r="5.7" fill="#2ca02c"/><circle cx="677.5" cy="838.5" r="10.15" fill="#fff"/><circle cx="677.5" cy="838.5" r="5.7" fill="#2ca02c"/><circle cx="681.5" cy="838.5" r="10.15" fill="#fff"/><circle cx="681.5" cy="838.5" r="5.7" fill="#2ca02c"/><circle cx="686.5" cy="838.5" r="10.15" fill="#fff"/><circle cx="686.5" cy="838.5" r="5.7" fill="#2ca02c"/><circle cx="690.5" cy="838.5" r="10.15" fill="#fff"/><circle cx="690.5" cy="838.5" r="5.7" fill="#2ca02c"/><circle cx="694.5" cy="838.5" r="10.15" fill="#fff"/><circle cx="694.5" cy="838.5" r="5.7" fill="#2ca02c"/><circle cx="699.5" cy="838.5" r="10.15" fill="#fff"/><circle cx="699.5" cy="838.5" r="5.7" fill="#2ca02c"/><circle cx="703.5" cy="838.5" r="10.15" fill="#fff"/><circle cx="703.5" cy="838.5" r="5.7" fill="#2ca02c"/><circle cx="707.5" cy="838.5" r="10.15" fill="#fff"/><circle cx="707.5" cy="838.5" r="5.7" fill="#2ca02c"/><circle cx="712.5" cy="838.5" r="10.15" fill="#fff"/><circle cx="712.5" cy="838.5" r="5.7" fill="#2ca02c"/><circle cx="716.5" cy="838.5" r="10.15" fill="#fff"/><circle cx="716.5" cy="838.5" r="5.7" fill="#2ca02c"/><circle cx="720.5" cy="838.5" r="10.15" fill="#fff"/><circle cx="720.5" cy="838.5" r="5.7" fill="#2ca02c"/><circle cx="725.5" cy="838.5" r="10.15" fill="#fff"/><circle cx="725.5" cy="838.5" r="5.7" fill="#2ca02c"/><circle cx="729.5" cy="838.5" r="10.15" fill="#fff"/><circle cx="729.5" cy="838.5" r="5.7" fill="#2ca02c"/><circle cx="734.5" cy="838.5" r="10.15" fill="#fff"/><circle cx="734.5" cy="838.5" r="5.7" fill="#2ca02c"/><circle cx="738.5" cy="838.5" r="10.15" fill="#fff"/><circle cx="738.5" cy="838.5" r="5.7" fill="#2ca02c"/><circle cx="742.5" cy="838.5" r="10.15" fill="#fff"/><circle cx="742.5" cy="838.5" r="5.7" fill="#2ca02c"/><circle cx="747.5" cy="838.5" r="10.15" fill="#fff"/><circle cx="747.5" cy="838.5" r="5.7" fill="#2ca02c"/><circle cx="751.5" cy="838.5" r="10.15" fill="#fff"/><circle cx="751.5" cy="838.5" r="5.7" fill="#2ca02c"/><circle cx="755.5" cy="838.5" r="10.15" fill="#fff"/><circle cx="755.5" cy="838.5" r="5.7" fill="#2ca02c"/><circle cx="760.5" cy="838.5" r="10.15" fill="#fff"/><circle cx="760.5" cy="838.5" r="5.7" fill="#2ca02c"/><circle cx="764.5" cy="838.5" r="10.15" fill="#fff"/><circle cx="764.5" cy="838.5" r="5.7" fill="#2ca02c"/><circle cx="768.5" cy="838.5" r="10.15" fill="#fff"/><circle cx="768.5" cy="838.5" r="5.7" fill="#2ca02c"/><circle cx="773.5" cy="838.5" r="10.15" fill="#fff"/><circle cx="773.5" cy="838.5" r="5.7" fill="#2ca02c"/><circle cx="777.5" cy="838.5" r="10.15" fill="#fff"/><circle cx="777.5" cy="838.5" r="5.7" fill="#2ca02c"/><circle cx="782.5" cy="838.5" r="10.15" fill="#fff"/><circle cx="782.5" cy="838.5" r="5.7" fill="#2ca02c"/><circle cx="786.5" cy="838.5" r="10.15" fill="#fff"/><circle cx="786.5" cy="838.5" r="5.7" fill="#2ca02c"/><circle cx="790.5" cy="838.5" r="10.15" fill="#fff"/><circle cx="790.5" cy="838.5" r="5.7" fill="#2ca02c"/><circle cx="795.5" cy="838.5" r="10.15" fill="#fff"/><circle cx="795.5" cy="838.5" r="5.7" fill="#2ca02c"/><circle cx="799.5" cy="838.5" r="10.15" fill="#fff"/><circle cx="799.5" cy="838.5" r="5.7" fill="#2ca02c"/><circle cx="803.5" cy="838.5" r="10.15" fill="#fff"/><circle cx="803.5" cy="838.5" r="5.7" fill="#2ca02c"/><circle cx="808.5" cy="838.5" r="10.15" fill="#fff"/><circle cx="808.5" cy="838.5" r="5.7" fill="#2ca02c"/><circle cx="812.5" cy="838.5" r="10.15" fill="#fff"/><circle cx="812.5" cy="838.5" r="5.7" fill="#2ca02c"/><circle cx="816.5" cy="838.5" r="10.15" fill="#fff"/><circle cx="816.5" cy="838.5" r="5.7" fill="#2ca02c"/><circle cx="821.5" cy="838.5" r="10.15" fill="#fff"/><circle cx="821.5" cy="838.5" r="5.7" fill="#2ca02c"/><circle cx="825.5" cy="838.5" r="10.15" fill="#fff"/><circle cx="825.5" cy="838.5" r="5.7" fill="#2ca02c"/><circle cx="830.5" cy="838.5" r="10.15" fill="#fff"/><circle cx="830.5" cy="838.5" r="5.7" fill="#2ca02c"/><circle cx="834.5" cy="838.5" r="10.15" fill="#fff"/><circle cx="834.5" cy="838.5" r="5.7" fill="#2ca02c"/><circle cx="838.5" cy="838.5" r="10.15" fill="#fff"/><circle cx="838.5" cy="838.5" r="5.7" fill="#2ca02c"/><circle cx="843.5" cy="838.5" r="10.15" fill="#fff"/><circle cx="843.5" cy="838.5" r="5.7" fill="#2ca02c"/><circle cx="847.5" cy="838.5" r="10.15" fill="#fff"/><circle cx="847.5" cy="838.5" r="5.7" fill="#2ca02c"/><circle cx="851.5" cy="838.5" r="10.15" fill="#fff"/><circle cx="851.5" cy="838.5" r="5.7" fill="#2ca02c"/><circle cx="856.5" cy="838.5" r="10.15" fill="#fff"/><circle cx="856.5" cy="838.5" r="5.7" fill="#2ca02c"/><circle cx="860.5" cy="838.5" r="10.15" fill="#fff"/><circle cx="860.5" cy="838.5" r="5.7" fill="#2ca02c"/><circle cx="864.5" cy="838.5" r="10.15" fill="#fff"/><circle cx="864.5" cy="838.5" r="5.7" fill="#2ca02c"/><circle cx="869.5" cy="838.5" r="10.15" fill="#fff"/><circle cx="869.5" cy="838.5" r="5.7" fill="#2ca02c"/><circle cx="873.5" cy="838.5" r="10.15" fill="#fff"/><circle cx="873.5" cy="838.5" r="5.7" fill="#2ca02c"/><circle cx="878.5" cy="838.5" r="10.15" fill="#fff"/><circle cx="878.5" cy="838.5" r="5.7" fill="#2ca02c"/><circle cx="882.5" cy="838.5" r="10.15" fill="#fff"/><circle cx="882.5" cy="838.5" r="5.7" fill="#2ca02c"/><circle cx="886.5" cy="838.5" r="10.15" fill="#fff"/><circle cx="886.5" cy="838.5" r="5.7" fill="#2ca02c"/><circle cx="891.5" cy="838.5" r="10.15" fill="#fff"/><circle cx="891.5" cy="838.5" r="5.7" fill="#2ca02c"/><circle cx="895.5" cy="838.5" r="10.15" fill="#fff"/><circle cx="895.5" cy="838.5" r="5.7" fill="#2ca02c"/><circle cx="899.5" cy="838.5" r="10.15" fill="#fff"/><circle cx="899.5" cy="838.5" r="5.7" fill="#2ca02c"/><circle cx="904.5" cy="838.5" r="10.15" fill="#fff"/><circle cx="904.5" cy="838.5" r="5.7" fill="#2ca02c"/><circle cx="908.5" cy="838.5" r="10.15" fill="#fff"/><circle cx="908.5" cy="838.5" r="5.7" fill="#2ca02c"/><circle cx="912.5" cy="838.5" r="10.15" fill="#fff"/><circle cx="912.5" cy="838.5" r="5.7" fill="#2ca02c"/><circle cx="917.5" cy="838.5" r="10.15" fill="#fff"/><circle cx="917.5" cy="838.5" r="5.7" fill="#2ca02c"/><circle cx="921.5" cy="838.5" r="10.15" fill="#fff"/><circle cx="921.5" cy="838.5" r="5.7" fill="#2ca02c"/><circle cx="925.5" cy="838.5" r="10.15" fill="#fff"/><circle cx="925.5" cy="838.5" r="5.7" fill="#2ca02c"/><circle cx="930.5" cy="838.5" r="10.15" fill="#fff"/><circle cx="930.5" cy="838.5" r="5.7" fill="#2ca02c"/><circle cx="934.5" cy="838.5" r="10.15" fill="#fff"/><circle cx="934.5" cy="838.5" r="5.7" fill="#2ca02c"/><circle cx="939.5" cy="838.5" r="10.15" fill="#fff"/><circle cx="939.5" cy="838.5" r="5.7" fill="#2ca02c"/><circle cx="943.5" cy="838.5" r="10.15" fill="#fff"/><circle cx="943.5" cy="838.5" r="5.7" fill="#2ca02c"/><circle cx="947.5" cy="838.5" r="10.15" fill="#fff"/><circle cx="947.5" cy="838.5" r="5.7" fill="#2ca02c"/><circle cx="952.5" cy="838.5" r="10.15" fill="#fff"/><circle cx="952.5" cy="838.5" r="5.7" fill="#2ca02c"/><circle cx="956.5" cy="838.5" r="10.15" fill="#fff"/><circle cx="956.5" cy="838.5" r="5.7" fill="#2ca02c"/>
<path d="M75.50 57.50V838.50H1165.50" stroke="#000" stroke-width="1.1" fill="none"/>
<g font-family="'DejaVu Sans','Liberation Sans',sans-serif" font-size="16" fill="#000"><text x="65.5" y="844" text-anchor="end">0</text><text x="65.5" y="733" text-anchor="end">5</text><text x="65.5" y="621" text-anchor="end">10</text><text x="65.5" y="510" text-anchor="end">15</text><text x="65.5" y="398" text-anchor="end">20</text><text x="65.5" y="286" text-anchor="end">25</text><text x="65.5" y="175" text-anchor="end">30</text><text x="65.5" y="63" text-anchor="end">35</text><text x="78.00" y="864" text-anchor="middle">0</text><text x="296.00" y="864" text-anchor="middle">50</text><text x="514.00" y="864" text-anchor="middle">100</text><text x="732.00" y="864" text-anchor="middle">150</text><text x="950.00" y="864" text-anchor="middle">200</text><text x="1168.00" y="864" text-anchor="middle">250</text>
<text x="620.7" y="892" text-anchor="middle">Time (s)</text>
<text transform="translate(24 448) rotate(-90)" text-anchor="middle">Megabits</text>
<text x="1" y="35">tor0/searchlight/corpus/wireguard/experiment<tspan dy="4" font-size="12.8">3</tspan><tspan dy="-4">/eth1</tspan><tspan dy="4" font-size="12.8">i</tspan><tspan dy="-4">nterface/ptp/exp-a-1080-hls-http1/1646893109-c0.c5s3wgptp.hdumb.pharos-exp-a-1080-hls-http1</tspan></text>
<text x="1086.8" y="80.30" text-anchor="end" xml:space="preserve">TCP</text>
<text x="1086.8" y="99.30" text-anchor="end" xml:space="preserve">UDP</text>
<text x="1086.8" y="118.30" text-anchor="end" xml:space="preserve">IP (!TCP  !UDP)</text>
</g>
<path d="M1097.8 74.5H1111.2M1131.6 74.5H1145.5" stroke="#0060ad" stroke-width="2.0"/>
<circle cx="1121.5" cy="74.5" r="5.7" fill="#0060ad"/>
<path d="M1097.8 93.5H1111.2M1131.6 93.5H1145.5" stroke="#ff7f00" stroke-width="2.0"/>
<circle cx="1121.5" cy="93.5" r="5.7" fill="#ff7f00"/>
<path d="M1097.8 112.5H1111.2M1131.6 112.5H1145.5" stroke="#2ca02c" stroke-width="2.0"/>
<circle cx="1121.5" cy="112.5" r="5.7" fill="#2ca02c"/>
</svg>
</body></html>
